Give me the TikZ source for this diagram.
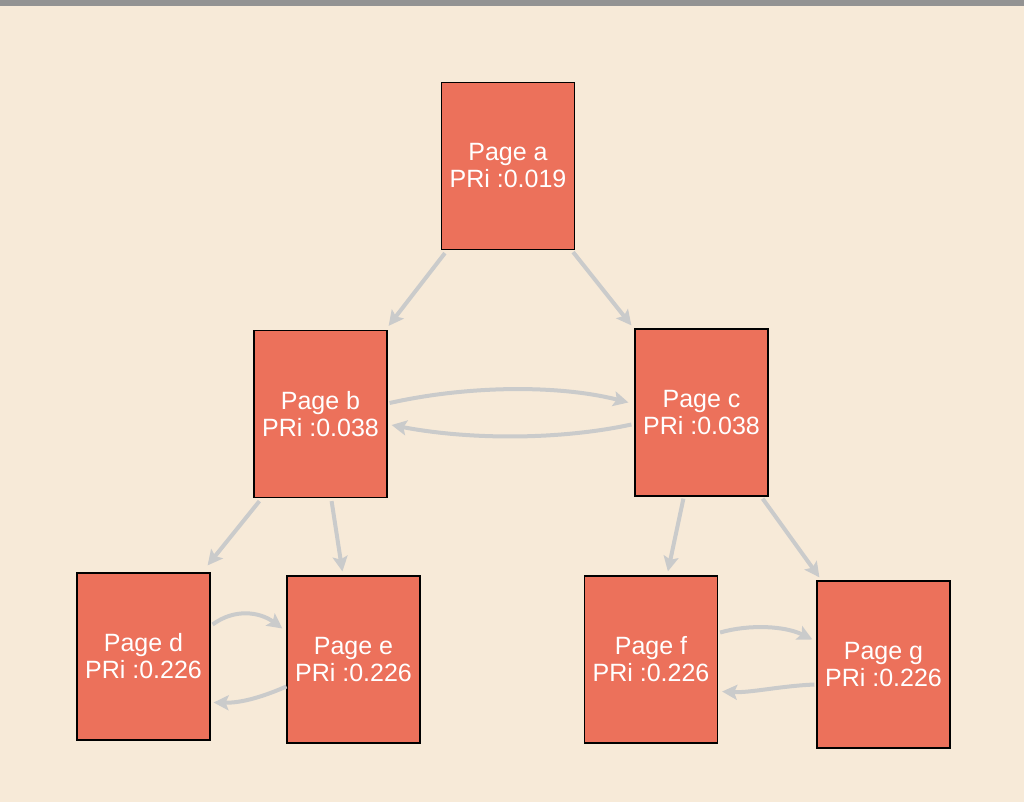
\documentclass[tikz,border=0pt]{standalone}
\usepackage{fontspec}
\setmainfont{Liberation Sans}
\usetikzlibrary{arrows.meta}
\definecolor{bg}{HTML}{F7EAD8}
\definecolor{boxc}{HTML}{EC715B}
\definecolor{arr}{HTML}{CACBCB}
\begin{document}
\begin{tikzpicture}[x=1pt,y=-1pt,
  page/.style={draw=black,line width=1.2pt,fill=boxc,minimum width=133pt,minimum height=167pt,inner sep=0pt,text=white,align=center,font=\fontsize{25}{27}\selectfont},
  link/.style={draw=arr,line width=4pt,-{Stealth[length=15pt,width=15pt,inset=3pt]}}]
\useasboundingbox (0,0) rectangle (1024,802);
\fill[bg] (0,0) rectangle (1024,802);
\fill[gray!85] (0,0) rectangle (1024,6);
\node[page] (a) at (508,166) {Page a\\PRi :0.019};
\node[page] (b) at (320.5,414) {Page b\\PRi :0.038};
\node[page] (c) at (701.5,412.5) {Page c\\PRi :0.038};
\node[page] (d) at (143.5,656.5) {Page d\\PRi :0.226};
\node[page] (e) at (353.5,659.5) {Page e\\PRi :0.226};
\node[page] (f) at (651,659.5) {Page f\\PRi :0.226};
\node[page] (g) at (883.5,664.5) {Page g\\PRi :0.226};
% a to b, c
\draw[link] ([shift={(4,3)}]a.south west) -- ([shift={(1,-4)}]b.north east);
\draw[link] ([shift={(-2,2)}]a.south east) -- ([shift={(-3,-3)}]c.north west);
% b <-> c
\draw[link] ([shift={(2,-11)}]b.east) .. controls (470,385) and (560,385) .. ([shift={(-6,-10)}]c.west);
\draw[link] ([shift={(-3,12)}]c.west) .. controls (560,440) and (470,440) .. ([shift={(4,11)}]b.east);
% b to d, e
\draw[link] ([shift={(6,3)}]b.south west) -- ([shift={(-3,-7)}]d.north east);
\draw[link] ([shift={(-56,3)}]b.south east) -- ([shift={(56,-4)}]e.north west);
% c to f, g
\draw[link] ([shift={(49,2)}]c.south west) -- ([shift={(84,-4)}]f.north west);
\draw[link] ([shift={(-6,2)}]c.south east) -- ([shift={(3,-3)}]g.north west);
% d <-> e
\draw[link] ([shift={(2,-32)}]d.east) .. controls (235,608) and (260,612) .. ([shift={(-4,-31)}]e.west);
\draw[link] ([shift={(0,27)}]e.west) .. controls (260,698) and (240,703) .. ([shift={(3,46)}]d.east);
% f <-> g
\draw[link] ([shift={(2,-27)}]f.east) .. controls (750,624) and (785,626) .. ([shift={(-4,-25)}]g.west);
\draw[link] ([shift={(-2,20)}]g.west) .. controls (780,686) and (750,693) .. ([shift={(4,32)}]f.east);
\end{tikzpicture}
\end{document}
